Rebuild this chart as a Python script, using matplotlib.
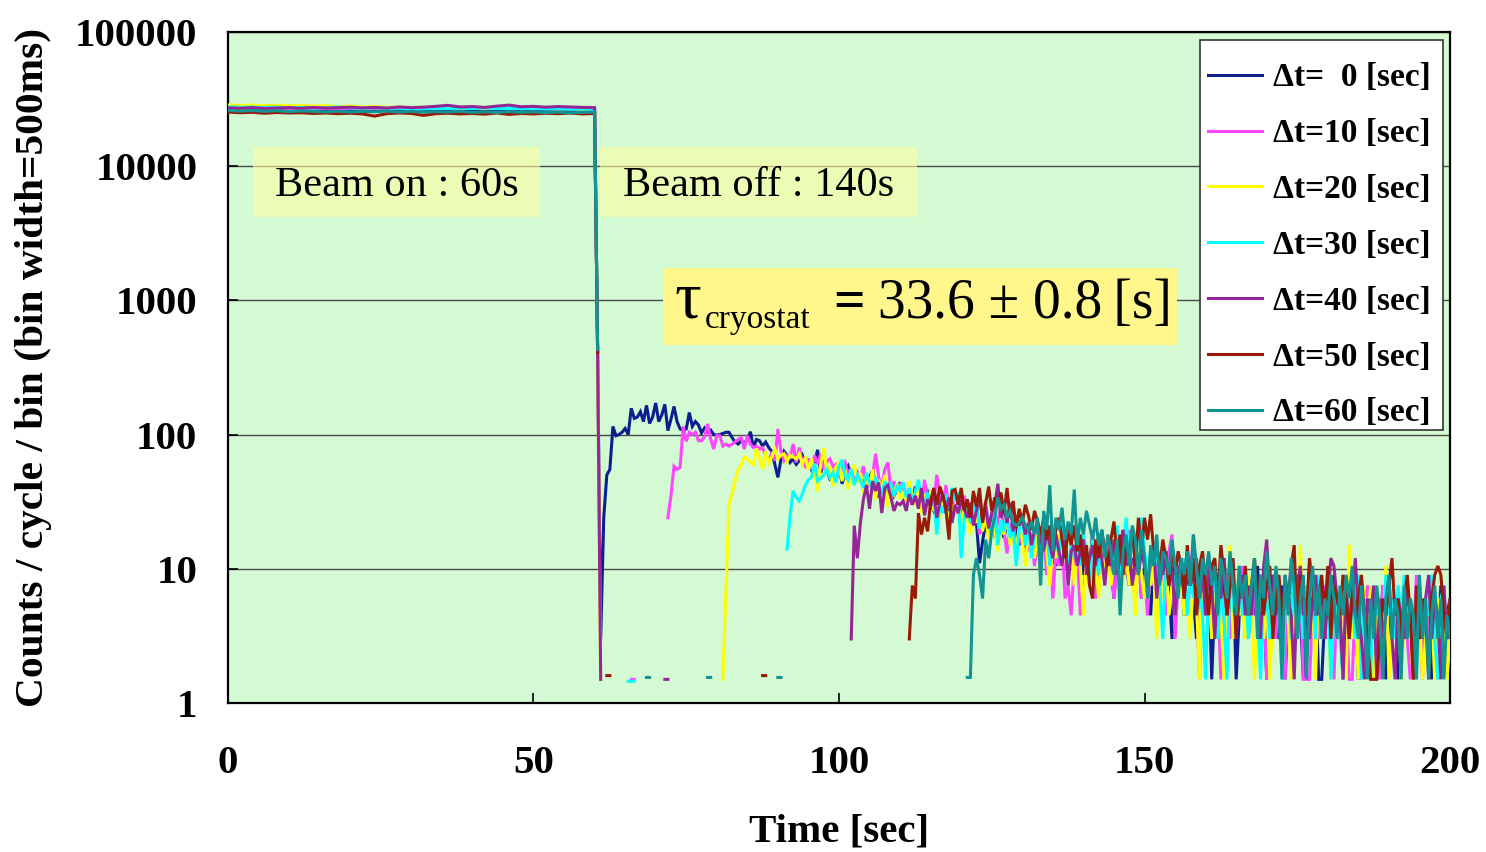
import numpy as np
import matplotlib
matplotlib.use("Agg")
import matplotlib.pyplot as plt
from matplotlib.patches import Rectangle
from matplotlib.ticker import NullLocator

plt.rcParams["font.family"] = ["Liberation Serif", "DejaVu Serif"]

# ---------------- data ----------------
BIN = 0.5            # s, bin width of the decay part
PLATEAU_STEP = 2.0   # s, sampling of the beam-on plateau (t = 0 .. 60)

labels = ["Δt=  0 [sec]", "Δt=10 [sec]", "Δt=20 [sec]", "Δt=30 [sec]",
          "Δt=40 [sec]", "Δt=50 [sec]", "Δt=60 [sec]"]
colors = ["#0c1f8f", "#ff45ff", "#ffff00", "#00ffff", "#962596", "#9a1a08", "#139494"]

plateau_dt0 = [26800, 26500, 26700, 26300, 26600, 26400, 26200, 26500, 26300, 26600, 26100,
               26400, 26300, 26200, 26500, 26300, 26400, 26100, 26300, 26200, 26400, 26000,
               26300, 26100, 26200, 25900, 26200, 26000, 26100, 25800, 26000]
plateau_dt10 = [27200, 27000, 27300, 26900, 27100, 26800, 27000, 26700, 26900, 26800, 27000,
                26700, 26900, 26800, 27100, 26900, 27000, 26800, 27200, 26900, 27000, 26800,
                26900, 26700, 27000, 26800, 26900, 26600, 26800, 26700, 26500]
plateau_dt20 = [28600, 28300, 28500, 28200, 28400, 28100, 28300, 28000, 28200, 27800, 28000,
                27600, 27800, 27400, 27600, 27300, 27500, 27200, 27400, 27100, 27300, 27000,
                27200, 26900, 27100, 26800, 27000, 26700, 26900, 26500, 26600]
plateau_dt30 = [27700, 27400, 27600, 27300, 27500, 27200, 27400, 27100, 27300, 27600, 27200,
                27000, 27300, 26900, 27100, 26400, 26700, 27000, 26800, 27100, 26900, 27200,
                26800, 27000, 26700, 26900, 26600, 26800, 26500, 26700, 26400]
plateau_dt40 = [27200, 27000, 27300, 26900, 27100, 27300, 27000, 27400, 27100, 27300, 27500,
                27200, 27400, 27100, 27600, 27300, 27500, 27900, 28400, 27600, 27800, 27400,
                28000, 28500, 27700, 27900, 27500, 27800, 27600, 27400, 27300]
plateau_dt50 = [25300, 25000, 25200, 24800, 25100, 24900, 25000, 24700, 24900, 24600, 24800,
                24500, 23600, 24600, 24900, 24700, 23900, 24600, 24800, 24500, 24700, 24400,
                24900, 24300, 24700, 24500, 24800, 24600, 24900, 24500, 24700]
plateau_dt60 = [26000, 25700, 26000, 25600, 25900, 25500, 25800, 25600, 25400, 25700, 25300,
                25600, 25400, 25700, 25300, 25600, 25200, 25500, 25300, 25600, 25200, 25400,
                25100, 25500, 25200, 25400, 25000, 25300, 24900, 25200, 25300]

# value of the partial bin at t = 60.5 s (beam switched off)
drop_values = [420, 410, 400, 410, 400, 410, 430]

# decay tails, 0.5 s bins, first value at the given start time
tail_dt0_start = 61.0
tail_dt0 = [
    3, 24, 50, 55, 115, 98, 100, 104, 111, 100,
    157, 132, 135, 148, 125, 165, 121, 135, 172, 125,
    140, 168, 107, 130, 162, 125, 110, 108, 110, 146,
    115, 125, 118, 103, 112, 105, 108, 100, 99, 100,
    102, 104, 104, 95, 88, 85, 90, 86, 92, 105,
    80, 92, 90, 82, 88, 80, 75, 60, 48, 65,
    75, 70, 62, 66, 60, 64, 70, 58, 66, 55,
    62, 77, 52, 61, 55, 47, 50, 57, 60, 43,
    52, 58, 49, 45, 52, 47, 45, 40, 48, 54,
    42, 34, 45, 40, 37, 42, 35, 39, 44, 36,
    33, 38, 30, 41, 35, 28, 33, 37, 30, 27,
    34, 29, 31, 26, 30, 24, 27, 31, 22, 25,
    28, 20, 24, 22, 11, 16, 22, 18, 24, 19,
    15, 21, 17, 22, 19, 16, 21, 15, 18, 13.5,
    19.5, 16.5, 12, 15, 10.5, 18, 13.5, 16.5, 12, 10.5,
    15, 12, 16.5, 9, 13.5, 10.5, 12, 15, 9, 13.5,
    10.5, 18, 7.5, 12, 13.5, 9, 15, 10.5, 6, 12,
    9, 19.5, 10.5, 7.5, 12, 9, 13.5, 6, 10.5, 7.5,
    4.5, 12, 9, 6, 10.5, 13.5, 7.5, 3, 9, 6,
    10.5, 4.5, 7.5, 9, 6, 3, 10.5, 7.5, 4.5, 9,
    1.5, 6, 7.5, 3, 12, 6, 4.5, 9, 1.5, 4.5,
    7.5, 6, 3, 7.5, 4.5, 10.5, 3, 6, 1.5, 6,
    9, 4.5, 3, 7.5, 1.5, 4.5, 6, 3, 9, 4.5,
    1.5, 6, 3, 4.5, 7.5, 1.5, 1.5, 4.5, 3, 6,
    9, 3, 4.5, 1.5, 6, 3, 7.5, 4.5, 1.5, 3,
    6, 4.5, 3, 1.5, 6, 3, 7.5, 1.5, 4.5, 3,
    6, 1.5, 4.5, 3, 7.5, 4.5, 1.5, 3, 6, 4.5,
    3, 6, 1.5, 4.5, 3, 7.5, 3, 4.5, 6, 3]

tail_dt10_start = 72.0
tail_dt10 = [
    24, 35, 58, 55, 57, 115, 89, 104, 100, 104,
    90, 90, 96, 120, 93, 78, 98, 98, 82, 85,
    82, 85, 88, 92, 95, 78, 98, 85, 80, 82,
    78, 80, 70, 65, 72, 64, 110, 75, 64, 70,
    68, 85, 62, 80, 62, 58, 66, 55, 70, 60,
    72, 55, 63, 66, 58, 60, 48, 57, 62, 50,
    56, 44, 52, 47, 58, 40, 45, 50, 72, 48,
    41, 55, 62, 38, 45, 36, 42, 37, 33, 44,
    30, 35, 40, 28, 46, 33, 38, 30, 50, 36,
    30, 42, 28, 34, 26, 31, 28, 35, 25, 30,
    22, 27, 18, 24, 32, 20, 26, 17, 23, 29,
    19, 13, 22, 16, 24, 19.5, 15, 21, 13.5, 18,
    10.5, 16.5, 12, 19.5, 9, 15, 6, 13.5, 10.5, 16.5,
    6, 7.5, 4.5, 10.5, 13.5, 4.5, 6, 12, 9, 15,
    6, 7.5, 13.5, 9, 16.5, 12, 6, 10.5, 7.5, 12,
    9, 19.5, 7.5, 10.5, 13.5, 6, 9, 4.5, 12, 7.5,
    10.5, 6, 9, 4.5, 13.5, 18, 3, 7.5, 10.5, 6,
    4.5, 9, 18, 6, 1.5, 9, 4.5, 7.5, 3, 10.5,
    6, 1.5, 4.5, 9, 3, 6, 7.5, 4.5, 10.5, 3,
    6, 4.5, 7.5, 3, 9, 6, 1.5, 4.5, 6, 3,
    7.5, 4.5, 1.5, 6, 9, 3, 4.5, 7.5, 1.5, 1.5,
    1.5, 4.5, 9, 3, 6, 7.5, 3, 4.5, 1.5, 6,
    3, 9, 4.5, 1.5, 1.5, 6, 3, 1.5, 4.5, 7.5,
    6, 3, 4.5, 1.5, 7.5, 3, 6, 6, 6, 6,
    6, 4.5, 3, 1.5, 3, 9, 4.5, 1.5, 6, 3,
    4.5, 3, 1.5, 6, 4.5, 3, 6, 3, 4.5, 3]

tail_dt20_start = 81.0
tail_dt20 = [
    1.5, 7, 31, 36, 45, 55, 59, 68, 66, 62,
    60, 79, 66, 55, 75, 62, 68, 78, 66, 70,
    72, 63, 70, 68, 66, 72, 60, 68, 55, 66,
    50, 38, 60, 79, 52, 58, 41, 58, 62, 45,
    55, 39, 50, 60, 44, 52, 37, 48, 42, 55,
    33, 46, 39, 50, 29, 41, 36, 43, 33, 38,
    29, 45, 34, 30, 40, 26, 36, 31, 38, 27,
    33, 24, 35, 29, 22, 30, 26, 31, 21, 28,
    24, 18, 27, 22, 30, 19, 25, 16.5, 22, 19.5,
    13.5, 21, 18, 24, 15, 18, 13.5, 21, 16.5, 10.5,
    19.5, 15, 12, 18, 9, 16.5, 13.5, 7.5, 15, 12,
    18, 10.5, 13.5, 9, 15, 7.5, 13.5, 10.5, 4.5, 12,
    9, 16.5, 10.5, 6, 13.5, 9, 12, 7.5, 10.5, 15,
    6, 9, 12, 7.5, 10.5, 4.5, 13.5, 9, 6, 12,
    7.5, 10.5, 3, 9, 6, 12, 4.5, 7.5, 10.5, 6,
    9, 4.5, 7.5, 3, 9, 6, 1.5, 10.5, 4.5, 7.5,
    3, 6, 9, 4.5, 1.5, 6, 15, 3, 7.5, 4.5,
    6, 3, 9, 6, 1.5, 4.5, 7.5, 3, 6, 1.5,
    4.5, 10.5, 6, 3, 7.5, 4.5, 1.5, 6, 3, 15,
    3, 7.5, 4.5, 6, 1.5, 9, 3, 6, 4.5, 1.5,
    7.5, 3, 4.5, 6, 1.5, 15, 3, 4.5, 1.5, 9,
    6, 3, 7.5, 1.5, 4.5, 6, 3, 10.5, 1.5, 4.5,
    3, 6, 1.5, 4.5, 7.5, 3, 1.5, 6, 4.5, 1.5,
    3, 7.5, 4.5, 1.5, 6, 3, 4.5, 1.5, 3, 6]

tail_dt30_start = 91.5
tail_dt30 = [
    14, 25, 38, 34, 32, 36, 42, 46, 48,
    61, 45, 47, 50, 55, 48, 52, 44, 58, 65,
    50, 46, 55, 42, 50, 46, 40, 52, 44, 38,
    48, 42, 36, 45, 39, 43, 35, 41, 38, 44,
    34, 40, 32, 38, 46, 33, 30, 37, 29, 35,
    18, 30, 26, 36, 28, 40, 32, 37, 12, 24,
    30, 22, 27, 33, 20, 25, 29, 21, 18, 26,
    15, 23, 19, 25, 17, 21, 10.5, 19.5, 24, 15,
    21, 12, 18, 22.5, 13.5, 16.5, 19.5, 10.5, 15, 18,
    12, 21, 13.5, 9, 16.5, 12, 15, 10.5, 18, 13.5,
    7.5, 16.5, 12, 9, 19.5, 13.5, 10.5, 15, 12, 21,
    9, 13.5, 24, 10.5, 16.5, 12, 18, 24, 13.5, 9,
    13.5, 10.5, 15, 7.5, 3, 12, 9, 13.5, 6, 10.5,
    7.5, 12, 4.5, 9, 6, 10.5, 7.5, 4.5, 1.5, 9,
    6, 10.5, 3, 7.5, 4.5, 1.5, 9, 6, 3, 10.5,
    4.5, 7.5, 3, 6, 9, 4.5, 1.5, 7.5, 6, 3,
    9, 4.5, 6, 1.5, 4.5, 7.5, 3, 10.5, 4.5, 6,
    3, 7.5, 4.5, 6, 3, 9, 4.5, 6, 7.5, 1.5,
    4.5, 6, 3, 1.5, 7.5, 4.5, 6, 3, 9, 1.5,
    6, 3, 1.5, 7.5, 4.5, 6, 3, 9, 4.5, 6,
    3, 7.5, 4.5, 9, 3, 6, 4.5, 1.5, 7.5, 3,
    6, 4.5, 9, 3, 1.5, 6, 7.5, 3, 4.5, 6]

tail_dt40_start = 102.0
tail_dt40 = [
    3, 21, 12, 22, 33, 42, 28, 45, 38, 44,
    26, 40, 42, 34, 27, 31, 30, 32, 27, 36,
    30, 35, 28, 40, 25, 33, 29, 38, 24, 31,
    36, 27, 34, 22, 30, 26, 33, 28, 24, 31,
    21, 27, 35, 23, 29, 20, 26, 30, 43, 24,
    28, 22, 31, 19, 25, 21, 24, 18, 22, 15,
    19.5, 21, 16.5, 13.5, 19.5, 15, 12, 18, 13.5, 10.5,
    16.5, 7.5, 13.5, 15, 10.5, 13.5, 16.5, 9, 12, 15,
    10.5, 18, 12, 7.5, 13.5, 10.5, 16.5, 9, 12, 19.5,
    10.5, 13.5, 7.5, 12, 9, 13.5, 10.5, 7.5, 12, 15,
    6, 10.5, 9, 13.5, 7.5, 10.5, 4.5, 9, 12, 6,
    10.5, 7.5, 9, 12, 6, 9, 4.5, 10.5, 7.5, 3,
    9, 6, 12, 4.5, 7.5, 10.5, 3, 6, 9, 4.5,
    7.5, 4.5, 9, 6, 3, 10.5, 16.5, 6, 9, 4.5,
    7.5, 3, 9, 6, 4.5, 1.5, 7.5, 10.5, 4.5, 6,
    3, 6, 9, 4.5, 7.5, 3, 6, 12, 10.5, 6,
    4.5, 1.5, 7.5, 3, 6, 12, 4.5, 3, 1.5, 6,
    4.5, 7.5, 1.5, 6, 3, 4.5, 9, 3, 1.5, 6,
    4.5, 3, 7.5, 4.5, 1.5, 6, 3, 4.5, 6, 9,
    3, 6, 4.5, 1.5, 7.5, 3, 4.5, 6, 3, 4.5]

tail_dt50_start = 111.5
tail_dt50 = [
    3, 7.5, 6, 26, 18, 24, 19, 32, 40,
    30, 41, 35, 28, 16.5, 38, 39, 30, 40, 27,
    33, 24, 38, 29, 40, 22, 31, 41, 27, 34,
    30, 37, 26, 40, 24, 32, 20, 28, 22, 30,
    25, 19.5, 27, 22.5, 18, 24, 16.5, 21, 13.5, 19.5,
    24, 16.5, 12, 19.5, 15, 21, 13.5, 18, 10.5, 15,
    7.5, 6, 16.5, 12, 19.5, 13.5, 10.5, 16.5, 22.5, 12,
    18, 9, 15, 13.5, 19.5, 10.5, 24, 13.5, 24, 16.5,
    25.5, 13.5, 15, 10.5, 16.5, 12, 7.5, 15, 9, 13.5,
    10.5, 6, 15, 7.5, 12, 4.5, 10.5, 13.5, 7.5, 4.5,
    10.5, 12, 6, 15, 9, 4.5, 7.5, 12, 3, 9,
    6, 10.5, 4.5, 7.5, 12, 6, 9, 4.5, 7.5, 10.5,
    3, 6, 9, 4.5, 7.5, 6, 10.5, 15, 3, 9,
    6, 4.5, 12, 7.5, 4.5, 6, 9, 4.5, 10.5, 3,
    7.5, 6, 4.5, 9, 6, 3, 7.5, 4.5, 6, 9,
    4.5, 3, 1.5, 1.5, 1.5, 3, 6, 4.5, 7.5, 12,
    4.5, 6, 3, 6, 9, 4.5, 1.5, 7.5, 3, 6,
    4.5, 1.5, 6, 9, 10.5, 9, 4.5, 3, 6, 4.5]

tail_dt60_start = 121.0
tail_dt60 = [
    1.55, 1.55, 9, 12, 9, 6, 16.5, 12, 19.5, 24,
    34, 28, 30, 24, 27, 22, 21, 22, 24, 21,
    19.5, 22.5, 18, 24, 7.5, 27, 19.5, 42, 13.5, 24,
    19.5, 28.5, 16.5, 22.5, 18, 39, 15, 24, 18, 27,
    21, 16.5, 24, 15, 19.5, 12, 18, 13.5, 9, 16.5,
    4.5, 13.5, 18, 10.5, 21, 16.5, 9, 19.5, 12, 6,
    15, 10.5, 18, 7.5, 13.5, 12, 9, 16.5, 10.5, 6,
    12, 9, 13.5, 7.5, 18, 10.5, 6, 12, 9, 13.5,
    7.5, 10.5, 4.5, 12, 9, 6, 13.5, 7.5, 4.5, 10.5,
    6, 9, 4.5, 7.5, 12, 3, 9, 6, 13.5, 7.5,
    4.5, 10.5, 6, 1.5, 9, 4.5, 12, 7.5, 3, 6,
    9, 1.5, 6, 10.5, 4.5, 7.5, 3, 6, 4.5, 9,
    6, 3, 7.5, 4.5, 9, 6, 10.5, 4.5, 3, 7.5,
    4.5, 1.5, 6, 3, 7.5, 4.5, 1.5, 6, 9, 3,
    6, 4.5, 1.5, 7.5, 3, 6, 4.5, 1.5, 9, 3,
    6, 1.5, 4.5, 7.5, 3, 6, 1.5, 4.5, 3, 6]

# isolated low bins before each tail: (start time, values)
frags_dt0 = [(tail_dt0_start, tail_dt0)]
frags_dt10 = [(66.0, [1.5, 1.5]), (tail_dt10_start, tail_dt10)]
frags_dt20 = [(61.0, [1.5]), (tail_dt20_start, tail_dt20)]
frags_dt30 = [(65.5, [1.45, 1.45, 1.45]), (tail_dt30_start, tail_dt30)]
frags_dt40 = [(61.0, [1.5]), (71.5, [1.5, 1.5]), (tail_dt40_start, tail_dt40)]
frags_dt50 = [(62.0, [1.6, 1.6]), (87.5, [1.6, 1.6]), (tail_dt50_start, tail_dt50)]
frags_dt60 = [(68.5, [1.55, 1.55]), (78.5, [1.55, 1.55]), (90.0, [1.55, 1.55]),
              (tail_dt60_start, tail_dt60)]

plateaus = [plateau_dt0, plateau_dt10, plateau_dt20, plateau_dt30,
            plateau_dt40, plateau_dt50, plateau_dt60]
fragments = [frags_dt0, frags_dt10, frags_dt20, frags_dt30,
             frags_dt40, frags_dt50, frags_dt60]


def build_series(plateau, drop, frags):
    t = list(np.arange(len(plateau)) * PLATEAU_STEP) + [60.5]
    v = list(plateau) + [drop]
    for start, vals in frags:
        if start - t[-1] > BIN + 1e-9:
            t.append(start - BIN / 2)
            v.append(np.nan)          # break the line (zero counts)
        t += list(start + BIN * np.arange(len(vals)))
        v += list(vals)
    return np.array(t), np.array(v, dtype=float)


# ---------------- figure ----------------
fig = plt.figure(figsize=(14.86, 8.52), dpi=100)
ax = fig.add_axes([0.1534, 0.1749, 0.8224, 0.7876])
ax.set_facecolor("#d3fad3")

for plat, drop, frags, col, lab in zip(plateaus, drop_values, fragments, colors, labels):
    t, v = build_series(plat, drop, frags)
    ax.plot(t, v, color=col, lw=2.2, label=lab, zorder=3, solid_joinstyle="miter")

ax.set_yscale("log")
ax.set_ylim(1, 1e5)
ax.set_xlim(0, 200)

yticks = [1, 10, 100, 1000, 10000, 100000]
ytick_labels = ["1", "10", "100", "1000", "10000", "100000"]
xticks = [0, 50, 100, 150, 200]
xtick_labels = ["0", "50", "100", "150", "200"]
ax.set_yticks(yticks, ytick_labels, fontsize=29.5, fontweight="bold")
ax.set_xticks(xticks, xtick_labels, fontsize=29.5, fontweight="bold")
ax.yaxis.set_minor_locator(NullLocator())
ax.tick_params(axis="both", direction="in", length=7, width=1.2, color="black")
ax.tick_params(axis="y", pad=22)
ax.tick_params(axis="x", pad=30)

ax.grid(axis="y", which="major", color="#4a4a4a", lw=1.0)
ax.set_axisbelow(True)
for s in ax.spines.values():
    s.set_linewidth(1.6)
    s.set_color("black")

# annotation boxes
ax.add_patch(Rectangle((0.0205, 0.7243), 0.2348, 0.1043, transform=ax.transAxes,
                       facecolor="#ffffa0", edgecolor="none", alpha=0.6, zorder=1))
ax.add_patch(Rectangle((0.3044, 0.7243), 0.2594, 0.1043, transform=ax.transAxes,
                       facecolor="#ffffa0", edgecolor="none", alpha=0.6, zorder=1))
ax.text(0.0385, 0.7556, "Beam on : 60s", transform=ax.transAxes, fontsize=30.5,
        ha="left", va="baseline", zorder=4)
ax.text(0.3232, 0.7556, "Beam off : 140s", transform=ax.transAxes, fontsize=30.5,
        ha="left", va="baseline", zorder=4)

ax.add_patch(Rectangle((0.356, 0.5335), 0.4206, 0.1148, transform=ax.transAxes,
                       facecolor="#fff68c", edgecolor="none", zorder=4))
ax.text(0.3658, 0.5738, "τ", transform=ax.transAxes, fontsize=48,
        ha="left", va="baseline", zorder=5)
ax.text(0.3903, 0.5589, "cryostat", transform=ax.transAxes, fontsize=24,
        ha="left", va="baseline", zorder=5)
ax.text(0.4951, 0.5738, "=", transform=ax.transAxes, fontsize=40, fontweight="bold",
        ha="left", va="baseline", zorder=5)
ax.text(0.5319, 0.5738, "33.6 ± 0.8\u2009[s]", transform=ax.transAxes, fontsize=40,
        ha="left", va="baseline", zorder=5)

# legend (frame drawn separately to match the reference box)
ax.add_patch(Rectangle((0.7954, 0.4069), 0.1989, 0.5812, transform=ax.transAxes,
                       facecolor="white", edgecolor="#333333", lw=1.2, zorder=5))
leg = ax.legend(loc="upper left", bbox_to_anchor=(0.802, 0.9545), borderaxespad=0,
                prop={"family": "Liberation Serif", "weight": "bold", "size": 24},
                handlelength=1.62, handletextpad=0.33, labelspacing=0.745,
                borderpad=0, frameon=False)
leg.set_zorder(6)

fig.text(839 / 1486, 1 - 832 / 852, "Time [sec]", fontsize=29.5, fontweight="bold",
         ha="center", va="center")
fig.text(34 / 1486, 1 - 367 / 852, "Counts / cycle / bin (bin width=500ms)", fontsize=29.8,
         fontweight="bold", rotation=90, ha="center", va="center")

fig.savefig("out.png", dpi=100)
